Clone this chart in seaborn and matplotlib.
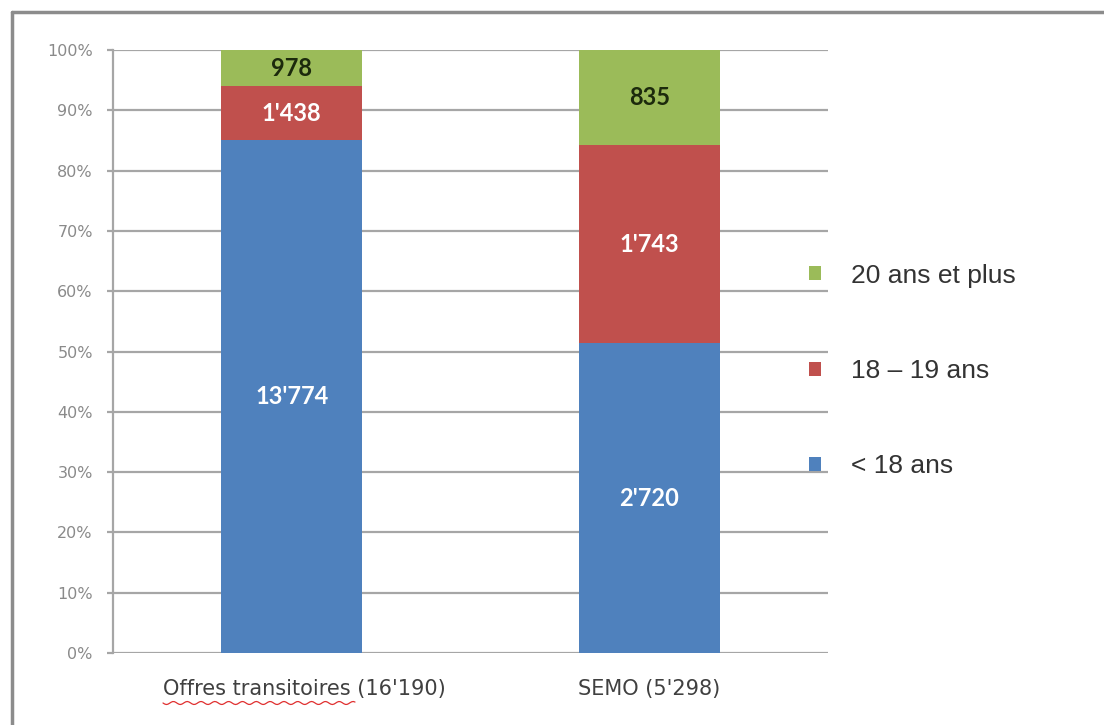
import numpy as np
import pandas as pd
import matplotlib
matplotlib.use("Agg")
import matplotlib.pyplot as plt
import matplotlib.transforms as mtransforms
import seaborn as sns
from matplotlib.lines import Line2D
from matplotlib.patches import Patch

# Données
categories = ["Offres transitoires (16'190)", "SEMO (5'298)"]
groupes = ["< 18 ans", "18 – 19 ans", "20 ans et plus"]
moins_18 = [13774, 2720]
de_18_19 = [1438, 1743]
plus_20 = [978, 835]
etiquettes = [["13'774", "2'720"], ["1'438", "1'743"], ["978", "835"]]

couleurs = ["#4F81BD", "#C0504D", "#9BBB59"]
couleurs_texte = ["white", "white", "#1c2a0c"]

sns.set_style("white")
plt.rcParams["font.family"] = ["Liberation Sans", "DejaVu Sans"]

comptes = np.array([moins_18, de_18_19, plus_20], dtype=float)
pct = comptes / comptes.sum(axis=0) * 100
cumul = np.cumsum(pct, axis=0)

fig = plt.figure(figsize=(11.04, 7.25), dpi=100)
ax = fig.add_axes([113 / 1104, 1 - 653 / 725, (828 - 113) / 1104, (653 - 50) / 725])

# barres empilées : on dessine les cumuls du haut vers le bas
for i in [2, 1, 0]:
    df = pd.DataFrame({"cat": categories, "val": cumul[i]})
    sns.barplot(data=df, x="cat", y="val", color=couleurs[i], width=0.395,
                saturation=1, linewidth=0, ax=ax, zorder=3)

# étiquettes de valeurs
for i in range(3):
    for j in range(2):
        bas = cumul[i - 1][j] if i > 0 else 0
        ax.text(j, bas + pct[i][j] / 2, etiquettes[i][j], ha="center", va="center",
                color=couleurs_texte[i], fontweight="bold", fontsize=17,
                family=["Lato", "DejaVu Sans"], zorder=5)

ax.set_xlim(-0.5, 1.5)
ax.set_ylim(0, 100)
ax.set_yticks(np.arange(0, 101, 10))
ax.set_yticklabels([f"{v}%" for v in range(0, 101, 10)], fontsize=11.5,
                   color="#8a8a8a", family="DejaVu Sans")
ax.yaxis.grid(True, color="#a6a6a6", linewidth=1.6, zorder=0)
ax.set_axisbelow(True)
ax.tick_params(axis="y", length=4.5, width=1.6, color="#a6a6a6", pad=10, left=True)
ax.tick_params(axis="x", length=0, pad=19, labelsize=15, labelcolor="#404040")
for lab in ax.get_xticklabels():
    lab.set_family("DejaVu Sans")
# le premier libellé est légèrement décalé vers la droite dans l'original
decalage = mtransforms.ScaledTranslation(13 / 100, 0, fig.dpi_scale_trans)
premier = ax.get_xticklabels()[0]
premier.set_transform(premier.get_transform() + decalage)
ax.set_xlabel("")
ax.set_ylabel("")
for s in ["top", "right", "bottom"]:
    ax.spines[s].set_visible(False)
ax.spines["left"].set_color("#a6a6a6")
ax.spines["left"].set_linewidth(1.6)

# légende
handles = [Patch(facecolor=couleurs[i], edgecolor="none") for i in [2, 1, 0]]
fig.legend(handles, [groupes[i] for i in [2, 1, 0]], loc="upper left",
           bbox_to_anchor=(785 / 1104, 1 - 240 / 725), frameon=False,
           fontsize=19, handlelength=0.45, handleheight=0.45, handletextpad=1.15,
           labelspacing=2.7, labelcolor="#333333")

# cadre extérieur (haut et gauche)
fig.add_artist(Line2D([12 / 1104, 12 / 1104], [0, 1 - 12 / 725],
                      transform=fig.transFigure, color="#8c8c8c", linewidth=2.5))
fig.add_artist(Line2D([12 / 1104, 1], [1 - 12 / 725, 1 - 12 / 725],
                      transform=fig.transFigure, color="#8c8c8c", linewidth=2.5))

# soulignement ondulé du correcteur orthographique
xs = np.linspace(163, 355, 120)
ys = 703 + 1.5 * np.sin((xs - 163) / 2.2)
fig.add_artist(Line2D(xs / 1104, 1 - ys / 725, transform=fig.transFigure,
                      color="#e03030", linewidth=0.9))

fig.savefig("out.png", dpi=100, facecolor="white")
